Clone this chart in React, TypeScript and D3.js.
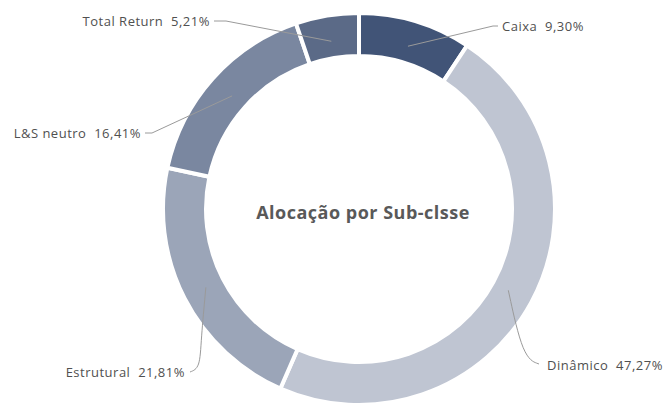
import React from "react";
import * as d3 from "d3";

const categories = ["Caixa", "Dinâmico", "Estrutural", "L&S neutro", "Total Return"];
const values = [9.3, 47.27, 21.81, 16.41, 5.21];
const valueLabels = ["9,30%", "47,27%", "21,81%", "16,41%", "5,21%"];
const colors = ["#415477", "#bfc5d2", "#9ba5b8", "#7a87a0", "#5b6a87"];
const title = "Alocação por Sub-clsse";

const W = 664, H = 405;
const cx = 359, cy = 209, R = 196, r = 153;

const layout = [
  { tx: 502, ty: 26, anchor: "start", pts: [[493, 26]] as number[][], end: [498, 26], bend: false, rad: 170 },
  { tx: 547, ty: 365, anchor: "start", pts: [[523, 358]] as number[][], end: [539, 364], bend: true, rad: 170 },
  { tx: 185, ty: 372, anchor: "end", pts: [[201, 340], [200, 368]] as number[][], end: [190, 372], bend: true, rad: 172 },
  { tx: 141, ty: 133, anchor: "end", pts: [[152, 133]] as number[][], end: [145, 133], bend: false, rad: 170 },
  { tx: 210, ty: 21, anchor: "end", pts: [[226, 21]] as number[][], end: [214, 21], bend: false, rad: 170 },
];

export default function App() {
  const pie = d3.pie<number>().sort(null).value((d) => d)(values);
  const arc = d3.arc<d3.PieArcDatum<number>>().innerRadius(r).outerRadius(R);
  return (
    <svg width={W} height={H} style={{ position: "absolute", left: 0, top: 0, background: "#fff" }}>
      <g transform={`translate(${cx},${cy})`}>
        {pie.map((p, i) => (
          <path key={i} d={arc(p) || ""} fill={colors[i]} stroke="#fff" strokeWidth={4} />
        ))}
      </g>
      {pie.map((p, i) => {
        const L = layout[i];
        const mid = (p.startAngle + p.endAngle) / 2;
        const sx = cx + L.rad * Math.sin(mid);
        const sy = cy - L.rad * Math.cos(mid);
        const pts = [[sx, sy], ...L.pts, L.end];
        const line = d3.line().curve(L.bend ? d3.curveBasis : d3.curveLinear)(pts as [number, number][]);
        return (
          <g key={i}>
            <path d={line || ""} fill="none" stroke="#9a9a9a" strokeWidth={1} />
            <text
              x={L.tx}
              y={L.ty}
              dy="0.35em"
              textAnchor={L.anchor}
              fontFamily="'Open Sans', sans-serif"
              fontSize={13}
              letterSpacing={0.5}
              fill="#505050"
              style={{ whiteSpace: "pre" }}
            >
              {`${categories[i]}  ${valueLabels[i]}`}
            </text>
          </g>
        );
      })}
      <text
        x={363}
        y={213}
        dy="0.35em"
        textAnchor="middle"
        fontFamily="'Open Sans', sans-serif"
        fontWeight="bold"
        fontSize={18}
        letterSpacing={0.5}
        fill="#595959"
      >
        {title}
      </text>
    </svg>
  );
}
